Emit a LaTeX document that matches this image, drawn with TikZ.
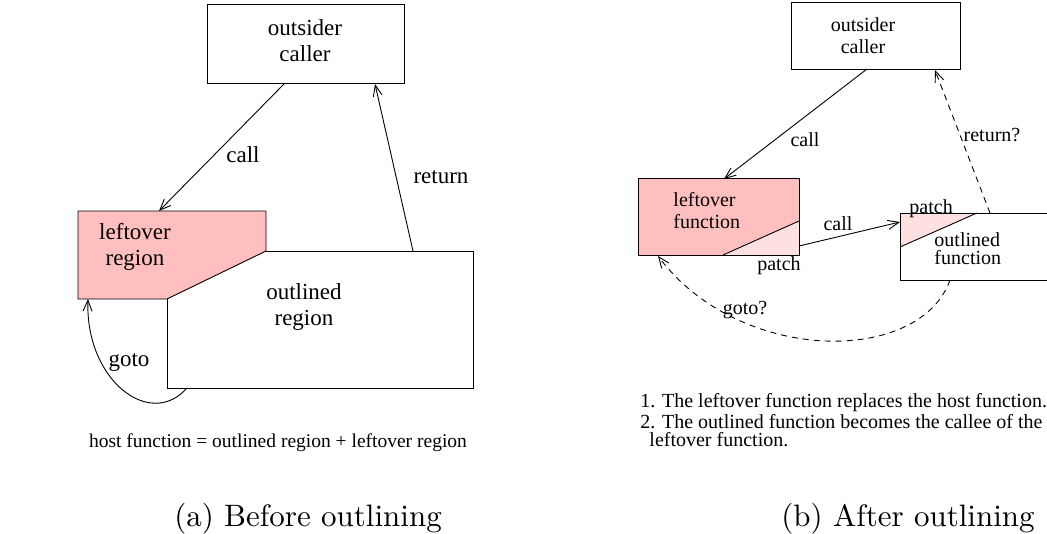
\documentclass[tikz,border=0pt]{standalone}
\usepackage{fontspec}
\newfontfamily\tms{Liberation Serif}
\newfontfamily\capfont{lmroman10-regular.otf}
\usetikzlibrary{arrows.meta}
\definecolor{leftpink}{RGB}{255,191,191}
\definecolor{patchpink}{RGB}{255,224,224}
\begin{document}
\begin{tikzpicture}[x=1pt,y=-1pt,
  line width=0.9pt, line join=miter,
  arr/.style={-{Straight Barb[length=11pt,width=9pt,line width=0.9pt]}},
  dsh/.style={dash pattern=on 6pt off 5pt},
  big/.style={font=\tms\fontsize{23}{26}\selectfont, inner sep=0pt, align=center},
  small/.style={font=\tms\fontsize{20}{22}\selectfont, inner sep=0pt, align=center},
  note/.style={font=\tms\fontsize{20}{22}\selectfont, inner sep=0pt, anchor=base west},
  captxt/.style={font=\capfont\fontsize{31}{36}\selectfont, inner sep=0pt, anchor=base}]
\useasboundingbox (0,0) rectangle (1047,533);
\clip (0,0) rectangle (1047,533);

% ---------- (a) before outlining ----------
\node[draw, minimum width=197pt, minimum height=79pt, inner sep=0pt] (callerA) at (305.5,43.5) {};
\node[big] (callerAtxt) at (305,41) {outsider\\caller};

% leftover region (pink) and outlined region share the slanted edge
\fill[leftpink] (78,211) -- (266,211) -- (266,251) -- (167,299) -- (78,299) -- cycle;
\draw (78,211) -- (266,211) -- (266,251) -- (167,299) -- (78,299) -- cycle;
\draw (266,251) -- (473,251) -- (473,388) -- (167,388) -- (167,299);

\coordinate (callerAout) at (285,83);
\coordinate (callerAin) at (375,84);
\coordinate (leftA) at (159,211);
\coordinate (leftAgoto) at (88,299);
\coordinate (outA) at (413,251);
\coordinate (outAgoto) at (187,388);

\node[big] (leftAtxt) at (135,247) {leftover\\region};
\node[big] (outAtxt) at (304,307) {outlined\\region};

\draw[arr] (callerAout) -- (leftA);
\node[big] (callAlbl) at (243,155) {call};
\draw[arr] (outA) -- (callerAin);
\node[big] (retAlbl) at (441,177) {return};
\draw[arr] (outAgoto) .. controls (150,430) and (85,380) .. (leftAgoto);
\node[big] (gotoAlbl) at (129,363) {goto};

\node[font=\tms\fontsize{19.5}{22}\selectfont, inner sep=0pt, anchor=base] (hostA) at (278,447) {host function = outlined region + leftover region};
\node[captxt] (capA) at (308,526) {(a) Before outlining};

% ---------- (b) after outlining ----------
\node[draw, minimum width=169pt, minimum height=67pt, inner sep=0pt] (callerB) at (875.5,35.5) {};
\node[small] (callerBtxt) at (863,36) {outsider\\caller};

% leftover function with its patch corner
\node[fill=leftpink, minimum width=160pt, minimum height=76pt, inner sep=0pt] (leftB) at (719,217) {};
\fill[patchpink] (723,255) -- (799,221) -- (799,255) -- cycle;
\draw (723,255) -- (799,221);
\draw (leftB.north west) rectangle (leftB.south east);
\node[small, align=left, anchor=west] (leftBtxt) at (673,211) {leftover\\function};
\node[small] (patchLbl1) at (779,266) {patch};

% outlined function with its patch corner
\node[minimum width=170pt, minimum height=67pt, inner sep=0pt, anchor=north west] (outB) at (900,213) {};
\fill[patchpink] (900,213) -- (977,213) -- (900,247) -- cycle;
\draw (977,213) -- (900,247);
\draw (outB.north west) rectangle (outB.south east);
\node[small, anchor=base west] (patchLbl2) at (909,213) {patch};
\node[note] (outBtxt1) at (934,246) {outlined};
\node[note] (outBtxt2) at (934,264) {function};

\coordinate (callBfrom) at (867,69);
\coordinate (callBto) at (724,179);
\coordinate (retBfrom) at (990,213);
\coordinate (retBto) at (935,70);
\coordinate (callCfrom) at (799,246);
\coordinate (callCto) at (900,222);
\coordinate (gotoBfrom) at (950,280);
\coordinate (gotoBto) at (658,256);

\draw[arr] (callBfrom) -- (callBto);
\node[small] (callBlbl) at (805,140) {call};
\draw[arr, dsh] (retBfrom) -- (retBto);
\node[small] (retBlbl) at (992,135) {return?};
\draw[arr] (callCfrom) -- (callCto);
\node[small] (callClbl) at (838,224) {call};
\draw[arr, dsh] (gotoBfrom) .. controls (920,365) and (740,365) .. (gotoBto);
\node[small] (gotoBlbl) at (745,310) {goto?};

\node[note] (note1) at (640,407) {1. The leftover function replaces the host function.};
\node[note] (note2) at (640,428) {2. The outlined function becomes the callee of the};
\node[note] (note3) at (649,446) {leftover function.};
\node[captxt] (capB) at (908,526) {(b) After outlining};
\end{tikzpicture}
\end{document}
